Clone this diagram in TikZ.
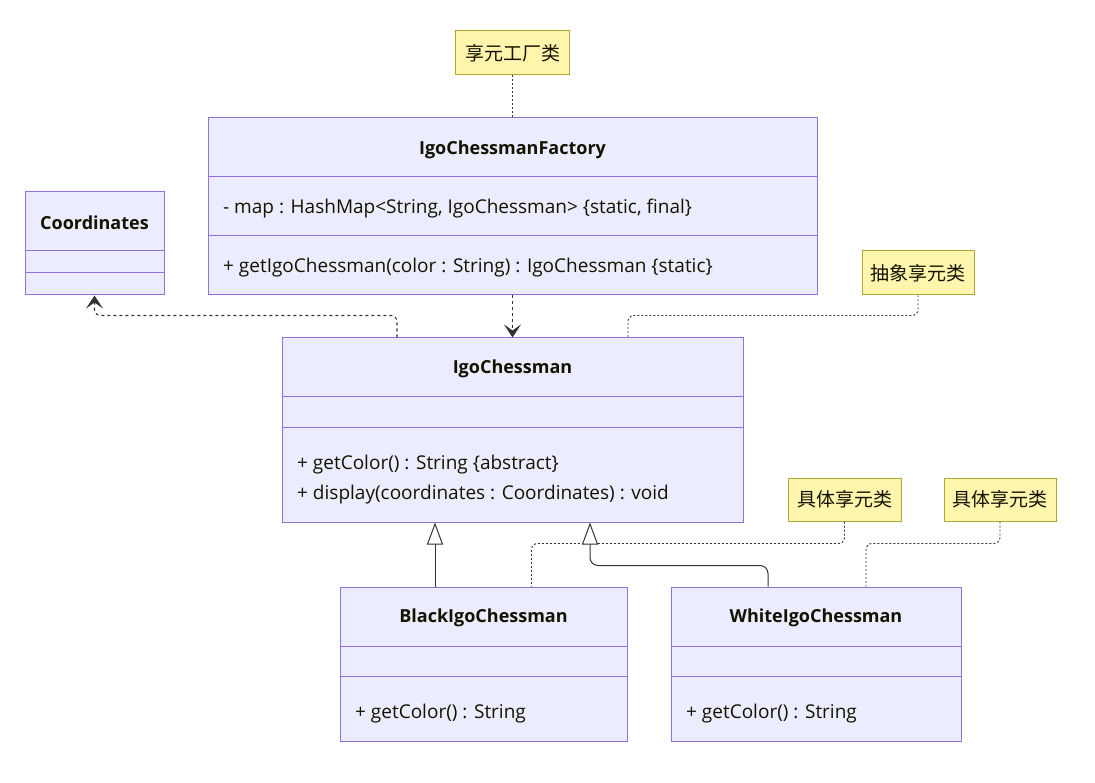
\documentclass[tikz,border=0pt]{standalone}
\usepackage{fontspec}
\setmainfont{Open Sans}
\newfontfamily\cjk{Noto Sans CJK SC}
\usetikzlibrary{arrows.meta}
\definecolor{umlfill}{HTML}{ECECFF}
\definecolor{umlborder}{HTML}{9370DB}
\definecolor{notefill}{HTML}{FFF5AD}
\definecolor{noteborder}{HTML}{AAAA33}
\definecolor{linkgray}{HTML}{333333}
\definecolor{textdark}{HTML}{131300}
\tikzset{
  % class boxes and their compartment lines
  classbox/.style={draw=umlborder,fill=umlfill,line width=1pt,inner sep=0pt},
  classline/.style={draw=umlborder,line width=1pt},
  classtitle/.style={font=\fontsize{18}{20}\selectfont\bfseries,text=textdark},
  member/.style={anchor=west,font=\fontsize{19}{21}\selectfont,text=textdark,inner sep=0pt},
  % yellow notes
  notebox/.style={draw=noteborder,fill=notefill,line width=1pt,inner sep=0pt,
    font=\fontsize{19}{21}\cjk,text=textdark},
  notelink/.style={draw=linkgray,line width=0.9pt,dash pattern=on 2pt off 2pt,rounded corners=6pt},
  % relations
  depend/.style={draw=linkgray,line width=1.1pt,dash pattern=on 3pt off 3pt,rounded corners=6pt,
    -{Stealth[length=13pt,width=17pt,inset=6pt]}},
  inherit/.style={draw=linkgray,line width=1pt,rounded corners=8pt,
    -{Triangle[open,length=22pt,width=16pt,fill=white]}},
}

\begin{document}
\begin{tikzpicture}[x=1pt,y=-1pt]
\useasboundingbox (0,0) rectangle (1095,783);
\coordinate (F) at (512.5,206.5);
\coordinate (C) at (94.5,243.5);
\coordinate (I) at (512.5,430);
\coordinate (B) at (483.5,664);
\coordinate (W) at (816,664);
% class boxes
\node[classbox,minimum width=609pt,minimum height=177pt] (factory) at (F){};
\node[classbox,minimum width=139pt,minimum height=103pt] (coords) at (C){};
\node[classbox,minimum width=461pt,minimum height=184pt] (igo) at (I){};
\node[classbox,minimum width=287pt,minimum height=154pt] (black) at (B){};
\node[classbox,minimum width=290pt,minimum height=154pt] (white) at (W){};
\draw[classline] (factory.west |- 0,177)--(factory.east |- 0,177);
\draw[classline] (factory.west |- 0,236)--(factory.east |- 0,236);
\draw[classline] (coords.west |- 0,251)--(coords.east |- 0,251);
\draw[classline] (coords.west |- 0,273)--(coords.east |- 0,273);
\draw[classline] (igo.west |- 0,397)--(igo.east |- 0,397);
\draw[classline] (igo.west |- 0,427)--(igo.east |- 0,427);
\draw[classline] (black.west |- 0,646)--(black.east |- 0,646);
\draw[classline] (black.west |- 0,676)--(black.east |- 0,676);
\draw[classline] (white.west |- 0,646)--(white.east |- 0,646);
\draw[classline] (white.west |- 0,676)--(white.east |- 0,676);
% class texts
\node[classtitle] (factorytitle) at (512.5,150){IgoChessmanFactory};
\node[member] (factorymap) at (223,209){- map : HashMap<String, IgoChessman> \{static, final\}};
\node[member] (factoryget) at (223,268){+ getIgoChessman(color : String) : IgoChessman \{static\}};
\node[classtitle] (coordstitle) at (94.5,223){Coordinates};
\node[classtitle] (igotitle) at (512.5,369){IgoChessman};
\node[member] (igocolor) at (297,465){+ getColor() : String \{abstract\}};
\node[member] (igodisplay) at (297,495){+ display(coordinates : Coordinates) : void};
\node[classtitle] (blacktitle) at (483.5,618){BlackIgoChessman};
\node[member] (blackcolor) at (355,714){+ getColor() : String};
\node[classtitle] (whitetitle) at (816,618){WhiteIgoChessman};
\node[member] (whitecolor) at (686,714){+ getColor() : String};
% notes
\node[notebox,minimum width=114pt,minimum height=44pt] (factorynote) at (512.5,53){享元工厂类};
\node[notebox,minimum width=112pt,minimum height=44pt] (abstractnote) at (918,273){抽象享元类};
\node[notebox,minimum width=113pt,minimum height=43pt] (blacknote) at (844.5,499.5){具体享元类};
\node[notebox,minimum width=112pt,minimum height=43pt] (whitenote) at (1000,499.5){具体享元类};
\draw[notelink] (factorynote.south)--(factory.north);
\draw[notelink] (abstractnote.south) |- ([xshift=115.5pt,yshift=22pt]igo.north)
  -- ([xshift=115.5pt]igo.north);
\draw[notelink] (blacknote.south) |- ([xshift=48pt,yshift=43pt]black.north)
  -- ([xshift=48pt]black.north);
\draw[notelink] (whitenote.south) |- ([xshift=50pt,yshift=43pt]white.north)
  -- ([xshift=50pt]white.north);
% relations
\draw[depend] (factory.south)--(igo.north);
\draw[depend] ([xshift=-115.5pt]igo.north) |- ([yshift=-20pt]coords.south)
  -- (coords.south);
\draw[inherit] ([xshift=-48.5pt]black.north)--([xshift=-77.5pt]igo.south);
\draw[inherit] ([xshift=-48pt]white.north) |- ([xshift=77.5pt,yshift=-43pt]igo.south)
  -- ([xshift=77.5pt]igo.south);
\end{tikzpicture}
\end{document}
